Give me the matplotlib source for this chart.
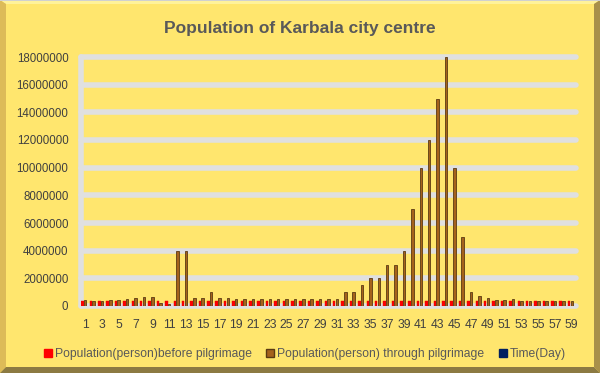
import matplotlib
matplotlib.use("Agg")
import matplotlib.pyplot as plt
from matplotlib.patches import Polygon, Patch
import numpy as np

plt.rcParams['font.family'] = ['Liberation Sans', 'DejaVu Sans']

days = [1, 2, 3, 4, 5, 6, 7, 8, 9, 10, 11, 12, 13, 14, 15, 16, 17, 18, 19, 20,
        21, 22, 23, 24, 25, 26, 27, 28, 29, 30, 31, 32, 33, 34, 35, 36, 37, 38, 39, 40,
        41, 42, 43, 44, 45, 46, 47, 48, 49, 50, 51, 52, 53, 54, 55, 56, 57, 58, 59]
before = [350000] * 59
through = [400000, 350000, 350000, 400000, 450000, 500000, 600000, 650000, 650000, 250000,
           150000, 4000000, 4000000, 550000, 550000, 1000000, 600000, 600000, 500000, 500000,
           500000, 500000, 500000, 500000, 500000, 500000, 500000, 500000, 500000, 500000,
           500000, 1000000, 1000000, 1500000, 2000000, 2000000, 3000000, 3000000, 4000000, 7000000,
           10000000, 12000000, 15000000, 18000000, 10000000, 5000000, 1000000, 700000, 550000, 450000,
           450000, 500000, 350000, 350000, 350000, 350000, 350000, 350000, 350000]
time_day = [1, 2, 3, 4, 5, 6, 7, 8, 9, 10, 11, 12, 13, 14, 15, 16, 17, 18, 19, 20,
            21, 22, 23, 24, 25, 26, 27, 28, 29, 30, 31, 32, 33, 34, 35, 36, 37, 38, 39, 40,
            41, 42, 43, 44, 45, 46, 47, 48, 49, 50, 51, 52, 53, 54, 55, 56, 57, 58, 59]
series_names = ["Population(person)before pilgrimage",
                "Population(person) through pilgrimage",
                "Time(Day)"]
title = "Population of Karbala city centre"

W, H = 600, 373
BG = "#FFE66E"
fig = plt.figure(figsize=(W / 100, H / 100), dpi=100, facecolor=BG)

# bevel border
def px(x, y):
    return (x / W, 1 - y / H)

bev = [
    ([px(0, 0), px(600, 0), px(594, 4), px(6, 4)], "#FFF29A"),      # top
    ([px(0, 0), px(6, 4), px(6, 367), px(0, 373)], "#DDBB58"),      # left
    ([px(600, 0), px(600, 373), px(594, 367), px(594, 4)], "#A8904A"),  # right
    ([px(0, 373), px(6, 367), px(594, 367), px(600, 373)], "#8C7A42"),  # bottom
]
for pts, c in bev:
    fig.patches.append(Polygon(pts, closed=True, transform=fig.transFigure,
                               facecolor=c, edgecolor="none", zorder=0))
fig.patches.append(Polygon([px(0, 0), px(600, 0), px(600, 1), px(0, 1)], closed=True,
                           transform=fig.transFigure, facecolor="#D0D0D0",
                           edgecolor="none", zorder=0))

left, right, top, bottom = 81, 576, 57, 306
ax = fig.add_axes([left / W, 1 - bottom / H, (right - left) / W, (bottom - top) / H])
ax.set_facecolor("none")

x = np.array(days)
bw = 0.30
ax.bar(x - 0.32, before, width=bw, color="#FF0000", edgecolor="#E00000", linewidth=0.3, zorder=3)
ax.bar(x, through, width=bw, color="#A5621C", edgecolor="#5A3A12", linewidth=0.6, zorder=3)
ax.bar(x + 0.32, time_day, width=bw, color="#002060", zorder=3)

ax.set_xlim(0.5, 59.5)
ax.set_ylim(0, 18000000)
ax.set_yticks(np.arange(0, 18000001, 2000000))
ax.set_yticklabels([str(int(v)) for v in np.arange(0, 18000001, 2000000)])
ax.set_xticks(days[::2])
ax.set_xticklabels([str(d) for d in days[::2]])

ax.yaxis.grid(True, color="#E0E0E0", linewidth=4.0, solid_capstyle="round", zorder=1)
for gl in ax.get_ygridlines():
    gl.set_solid_capstyle("round")
    gl.set_clip_on(False)
for s in ["top", "right", "bottom"]:
    ax.spines[s].set_visible(False)
ax.spines["left"].set_color("#E0E0E0")
ax.spines["left"].set_linewidth(4.0)
ax.spines["left"].set_capstyle("round")
ax.spines["left"].set_zorder(1)

ax.tick_params(axis="both", length=0, colors="#404040")
ax.tick_params(axis="x", pad=9, labelsize=8.7)
ax.tick_params(axis="y", pad=9, labelsize=8.3)

fig.text(0.5, 1 - 28 / H, title, ha="center", va="center", fontsize=12.5,
         fontweight="bold", color="#595959")

handles = [Patch(facecolor="#FF0000", edgecolor="#FF0000"),
           Patch(facecolor="#A5621C", edgecolor="#5A3A12"),
           Patch(facecolor="#002060", edgecolor="#002060")]
leg = fig.legend(handles, series_names, loc="center", bbox_to_anchor=(0.508, 1 - 354 / H),
                 ncol=3, frameon=False, fontsize=8.7, handlelength=0.65, handleheight=0.65,
                 handletextpad=0.25, columnspacing=1.2, labelcolor="#595959")

fig.savefig("out.png", dpi=100, facecolor=BG)
